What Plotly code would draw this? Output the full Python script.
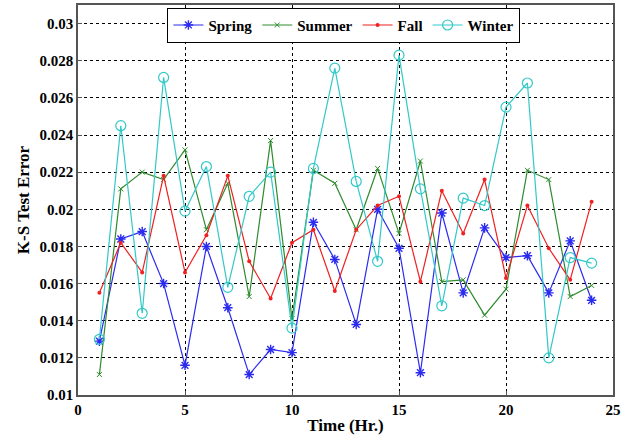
import plotly.graph_objects as go

hours = list(range(1, 25))
spring = [0.0129, 0.0184, 0.0188, 0.0160, 0.0116, 0.0180, 0.0147, 0.0111, 0.01245, 0.01228,
          0.0193, 0.0173, 0.0138, 0.0200, 0.0179, 0.0112, 0.0198, 0.0155, 0.0190, 0.0174,
          0.0175, 0.0155, 0.0183, 0.0151]
summer = [0.0111, 0.0211, 0.0220, 0.0216, 0.0232, 0.0189, 0.0214, 0.0153, 0.0237, 0.0141,
          0.0221, 0.0214, 0.0189, 0.0222, 0.0187, 0.0226, 0.0161, 0.0162, 0.0143, 0.0157,
          0.0221, 0.0216, 0.0153, 0.0159]
fall = [0.0155, 0.0182, 0.0166, 0.0218, 0.0166, 0.0186, 0.0218, 0.0172, 0.0152, 0.0182,
        0.0189, 0.0156, 0.0189, 0.0202, 0.0207, 0.0161, 0.0210, 0.0187, 0.0216, 0.0163,
        0.0202, 0.0179, 0.0162, 0.0204]
winter = [0.0130, 0.0245, 0.0144, 0.0271, 0.0199, 0.0223, 0.0158, 0.0207, 0.0220, 0.0136,
          0.0222, 0.0276, 0.0215, 0.0172, 0.0283, 0.0211, 0.0148, 0.0206, 0.0202, 0.0255,
          0.0268, 0.0120, 0.0174, 0.0171]

x_ticks = [0, 5, 10, 15, 20, 25]
y_ticks = [0.01, 0.012, 0.014, 0.016, 0.018, 0.02, 0.022, 0.024, 0.026, 0.028, 0.03]
y_tick_labels = ["0.01", "0.012", "0.014", "0.016", "0.018", "0.02", "0.022", "0.024", "0.026", "0.028", "0.03"]

series = [
    ("Spring", spring, "#2b2bf0", dict(symbol="asterisk-open", size=8, line=dict(width=1.4, color="#2b2bf0"))),
    ("Summer", summer, "#2e8b2e", dict(symbol="x-thin-open", size=5, line=dict(width=1, color="#2e8b2e"))),
    ("Fall", fall, "#f02020", dict(symbol="circle", size=4, color="#f02020")),
    ("Winter", winter, "#33c8c8", dict(symbol="circle-open", size=10, line=dict(width=1.2, color="#33c8c8"))),
]

fig = go.Figure()
for name, vals, color, marker in series:
    fig.add_trace(go.Scatter(
        x=hours, y=vals, name=name, mode="lines+markers",
        line=dict(color=color, width=1.2),
        marker=marker,
    ))

font_family = "Liberation Serif, Times New Roman, serif"
fig.update_layout(
    width=644, height=441,
    margin=dict(l=78, r=31, t=5, b=46),
    paper_bgcolor="white", plot_bgcolor="white",
    font=dict(family=font_family, size=14, color="black"),
    legend=dict(
        orientation="h", x=0.497, xanchor="center", y=0.993, yanchor="top",
        bordercolor="black", borderwidth=1, bgcolor="white",
        font=dict(family=font_family, size=15, color="black", weight="bold"),
        itemwidth=30, tracegroupgap=0,
    ),
    showlegend=True,
)
fig.update_xaxes(
    range=[0, 25], tickvals=x_ticks, ticktext=[str(v) for v in x_ticks],
    showgrid=True, gridcolor="black", griddash="dot", gridwidth=1,
    showline=True, linecolor="#555555", linewidth=1.5, mirror=True,
    ticks="inside", ticklen=4, tickcolor="#555555",
    zeroline=False, automargin=False,
    tickfont=dict(family=font_family, size=15, color="black", weight="bold"),
    title=dict(text="<b>Time (Hr.)</b>", font=dict(family=font_family, size=17, color="black"), standoff=2),
)
fig.update_yaxes(
    range=[0.01, 0.031], tickvals=y_ticks, ticktext=y_tick_labels,
    showgrid=True, gridcolor="black", griddash="dot", gridwidth=1,
    showline=True, linecolor="#555555", linewidth=1.5, mirror=True,
    ticks="inside", ticklen=4, tickcolor="#555555",
    zeroline=False, automargin=False,
    tickfont=dict(family=font_family, size=15, color="black", weight="bold"),
    title=dict(text="<b>K-S Test Error</b>", font=dict(family=font_family, size=17, color="black"), standoff=6),
)

fig.write_html(
    "out.html",
    config={"displayModeBar": False},
    post_script="document.body.style.margin='0';document.body.style.overflow='hidden';",
)
